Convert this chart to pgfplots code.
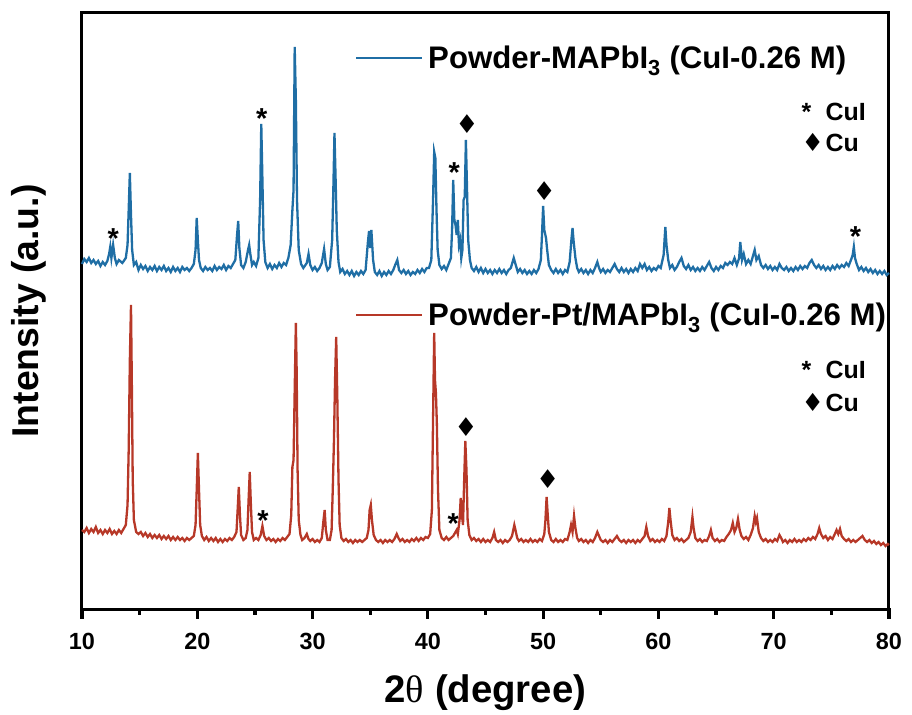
\documentclass[border=0pt]{standalone}
\usepackage{pgfplots}
\usepackage{pgfplotstable}
\pgfplotsset{compat=1.18}
\usepackage{fontspec}
\setmainfont{Liberation Sans}
\newfontfamily\dejavu{DejaVu Sans}
\newfontfamily\serifgr{Liberation Serif}
\definecolor{cblue}{RGB}{31,110,165}
\definecolor{cred}{RGB}{183,56,40}

\pgfplotstableread{
x y
10.0 356
10.2 361
10.4 358
10.6 362
10.8 357
11.0 360
11.2 356
11.4 359
11.6 354
11.8 358
12.0 355
12.2 359
12.35 366
12.45 373
12.55 362
12.7 375
12.85 362
13.0 356
13.2 360
13.5 357
13.8 362
13.95 375
14.05 410
14.15 447
14.25 405
14.35 370
14.5 355
14.7 358
14.9 350
15.1 355
15.3 351
15.5 354
15.7 349
15.9 353
16.1 350
16.3 354
16.5 349
16.7 353
16.9 350
17.1 354
17.3 349
17.5 352
17.7 348
17.9 353
18.1 349
18.3 352
18.5 348
18.7 353
18.9 350
19.1 352
19.3 349
19.5 352
19.7 356
19.85 370
19.95 402
20.05 380
20.15 360
20.3 352
20.5 349
20.7 353
20.9 350
21.1 352
21.3 349
21.5 354
21.7 350
21.9 353
22.1 351
22.3 355
22.5 350
22.7 354
22.9 352
23.1 356
23.3 360
23.45 385
23.55 399
23.65 372
23.8 355
24.0 352
24.2 358
24.4 370
24.5 375
24.6 366
24.75 355
24.9 358
25.1 354
25.3 362
25.45 420
25.55 496
25.65 440
25.75 380
25.9 358
26.1 352
26.3 356
26.5 351
26.7 355
26.9 352
27.1 357
27.3 353
27.5 357
27.7 355
27.9 362
28.1 375
28.25 410
28.35 430
28.45 573
28.55 520
28.65 420
28.8 370
29.0 356
29.2 352
29.5 357
29.65 366
29.8 355
30.0 350
30.2 353
30.4 349
30.6 352
30.8 357
31.0 371
31.15 356
31.3 350
31.5 353
31.7 380
31.8 430
31.9 487
32.0 440
32.1 390
32.25 358
32.4 348
32.6 351
32.8 346
33.0 349
33.2 345
33.4 349
33.6 344
33.8 348
34.0 345
34.2 349
34.4 346
34.6 350
34.8 378
34.9 389
35.0 372
35.1 390
35.25 360
35.4 348
35.6 345
35.8 349
36.0 344
36.2 348
36.4 345
36.6 349
36.8 346
37.0 350
37.2 356
37.35 360
37.5 350
37.7 347
37.9 350
38.1 346
38.3 349
38.5 345
38.7 348
38.9 346
39.1 350
39.3 347
39.5 351
39.7 348
39.9 352
40.1 352
40.3 360
40.45 420
40.55 468
40.65 462
40.75 410
40.85 370
41.0 355
41.2 351
41.4 354
41.6 350
41.8 356
42.0 362
42.1 390
42.2 440
42.3 400
42.4 395
42.5 385
42.6 400
42.7 375
42.8 380
42.9 362
43.0 370
43.1 420
43.2 423
43.3 480
43.4 430
43.5 380
43.65 360
43.8 352
44.0 349
44.2 353
44.4 348
44.6 352
44.8 347
45.0 351
45.2 347
45.4 350
45.6 346
45.8 350
46.0 347
46.2 351
46.4 347
46.6 350
46.8 346
47.0 350
47.2 352
47.45 362
47.6 356
47.8 348
48.0 351
48.2 347
48.4 350
48.6 346
48.8 349
49.0 346
49.2 350
49.4 347
49.6 351
49.8 360
49.9 385
50.0 414
50.1 390
50.25 382
50.35 370
50.5 355
50.7 350
50.9 347
51.1 351
51.3 347
51.5 350
51.7 346
51.9 350
52.1 348
52.3 358
52.45 380
52.55 392
52.65 378
52.8 362
52.95 352
53.1 348
53.3 351
53.5 347
53.7 350
53.9 346
54.1 350
54.3 347
54.5 352
54.7 358
54.85 352
55.0 348
55.2 351
55.4 347
55.6 350
55.8 348
56.0 352
56.2 356
56.4 351
56.6 348
56.8 352
57.0 348
57.2 351
57.4 347
57.6 351
57.8 348
58.0 352
58.2 349
58.4 356
58.6 352
58.8 356
59.0 350
59.2 353
59.4 349
59.6 352
59.8 350
60.0 354
60.2 352
60.45 365
60.6 393
60.7 375
60.85 360
61.0 352
61.2 355
61.4 350
61.6 353
61.8 358
62.0 362
62.2 354
62.4 351
62.6 355
62.8 350
63.0 353
63.2 349
63.4 352
63.6 349
63.8 353
64.0 350
64.2 354
64.4 358
64.6 352
64.8 349
65.0 353
65.2 350
65.4 354
65.6 352
65.8 357
66.0 355
66.2 358
66.4 356
66.6 362
66.8 355
67.0 362
67.1 378
67.25 360
67.4 366
67.6 356
67.8 360
68.0 356
68.2 364
68.35 370
68.5 360
68.7 364
68.9 355
69.1 352
69.3 355
69.5 351
69.7 354
69.9 350
70.1 353
70.3 350
70.5 356
70.7 352
70.9 350
71.1 353
71.3 349
71.5 352
71.7 349
71.9 353
72.1 350
72.3 354
72.5 351
72.7 354
72.9 352
73.1 357
73.3 360
73.5 355
73.7 352
73.9 355
74.1 351
74.3 354
74.5 350
74.7 353
74.9 350
75.1 354
75.3 351
75.5 355
75.7 352
75.9 355
76.1 353
76.3 357
76.5 354
76.7 360
76.85 365
76.95 373
77.05 362
77.2 356
77.4 350
77.6 353
77.8 349
78.0 352
78.2 348
78.4 351
78.6 347
78.8 350
79.0 346
79.2 349
79.4 346
79.6 349
79.8 345
80.0 347
}\bluedata

\pgfplotstableread{
x y
10.0 90
10.2 88
10.4 92
10.6 87
10.8 91
11.0 88
11.2 93
11.4 87
11.6 90
11.8 86
12.0 90
12.2 87
12.4 91
12.6 86
12.8 89
13.0 86
13.2 90
13.4 87
13.6 91
13.8 95
13.95 115
14.05 170
14.15 260
14.25 315
14.32 240
14.4 140
14.5 100
14.7 88
14.9 86
15.1 88
15.3 84
15.5 87
15.7 83
15.9 86
16.1 82
16.3 85
16.5 82
16.7 85
16.9 81
17.1 84
17.3 81
17.5 84
17.7 80
17.9 83
18.1 80
18.3 83
18.5 80
18.7 82
18.9 79
19.1 82
19.3 80
19.5 82
19.7 84
19.85 95
19.95 130
20.05 167
20.15 130
20.25 95
20.4 84
20.6 80
20.8 83
21.0 79
21.2 82
21.4 79
21.6 82
21.8 78
22.0 81
22.2 78
22.4 81
22.6 79
22.8 82
23.0 80
23.2 83
23.4 88
23.5 110
23.6 133
23.7 105
23.8 85
24.0 80
24.2 82
24.35 90
24.45 120
24.55 148
24.65 115
24.75 88
24.9 80
25.1 82
25.3 80
25.5 85
25.65 94
25.8 84
26.0 80
26.2 82
26.4 79
26.6 81
26.8 78
27.0 81
27.2 79
27.4 82
27.6 80
27.8 83
28.0 86
28.15 105
28.25 153
28.35 160
28.45 230
28.55 297
28.62 250
28.7 150
28.8 100
28.95 85
29.1 80
29.3 82
29.5 86
29.65 81
29.8 79
30.0 81
30.2 78
30.4 80
30.6 78
30.8 82
30.95 100
31.05 110
31.15 90
31.3 80
31.5 80
31.65 90
31.75 130
31.85 177
31.95 240
32.05 283
32.15 220
32.25 140
32.35 95
32.5 82
32.7 79
32.9 81
33.1 78
33.3 80
33.5 77
33.7 80
33.9 78
34.1 80
34.3 78
34.5 80
34.7 82
34.85 90
34.95 110
35.05 115
35.15 100
35.3 85
35.5 80
35.7 78
35.9 80
36.1 77
36.3 80
36.5 78
36.7 80
36.9 78
37.1 81
37.3 86
37.45 82
37.6 79
37.8 81
38.0 78
38.2 80
38.4 78
38.6 81
38.8 79
39.0 82
39.2 79
39.4 82
39.6 80
39.8 83
40.0 82
40.2 86
40.35 110
40.45 200
40.55 287
40.62 240
40.7 227
40.78 197
40.88 130
41.0 90
41.2 82
41.4 80
41.6 83
41.8 80
42.0 82
42.2 84
42.4 88
42.5 90
42.6 86
42.75 100
42.85 122
42.95 105
43.05 95
43.15 140
43.25 179
43.35 150
43.45 100
43.6 85
43.8 80
44.0 82
44.2 79
44.4 81
44.6 78
44.8 81
45.0 78
45.2 80
45.4 78
45.6 82
45.75 88
45.9 80
46.1 78
46.3 80
46.5 77
46.7 80
46.9 78
47.1 80
47.3 84
47.5 95
47.6 90
47.75 82
47.9 79
48.1 81
48.3 78
48.5 80
48.7 78
48.9 81
49.1 78
49.3 80
49.5 78
49.7 81
49.9 79
50.1 86
50.2 100
50.3 123
50.4 105
50.5 88
50.7 80
50.9 78
51.1 81
51.3 78
51.5 80
51.7 78
51.9 81
52.1 80
52.3 88
52.42 95
52.55 88
52.68 104
52.8 92
52.95 82
53.1 79
53.3 81
53.5 78
53.7 80
53.9 77
54.1 80
54.3 78
54.5 82
54.7 88
54.85 84
55.0 80
55.2 78
55.4 80
55.6 77
55.8 80
56.0 78
56.2 81
56.4 84
56.6 80
56.8 78
57.0 80
57.2 77
57.4 80
57.6 78
57.8 80
58.0 77
58.2 80
58.4 78
58.6 81
58.8 84
58.95 93
59.1 84
59.3 79
59.5 81
59.7 78
59.9 80
60.1 78
60.3 81
60.5 79
60.7 84
60.85 98
60.95 112
61.05 100
61.2 85
61.4 80
61.6 82
61.8 79
62.0 81
62.2 78
62.4 80
62.6 82
62.8 88
62.95 103
63.05 92
63.2 82
63.4 79
63.6 81
63.8 78
64.0 80
64.2 79
64.4 84
64.55 90
64.7 82
64.9 79
65.1 81
65.3 78
65.5 80
65.7 79
65.9 83
66.1 86
66.3 90
66.45 97
66.6 88
66.75 92
66.9 101
67.05 90
67.2 84
67.4 81
67.6 83
67.8 80
68.0 85
68.2 92
68.35 104
68.45 98
68.55 102
68.7 88
68.9 82
69.1 79
69.3 81
69.5 78
69.7 80
69.9 78
70.1 81
70.3 79
70.5 85
70.65 82
70.8 78
71.0 80
71.2 77
71.4 80
71.6 78
71.8 81
72.0 78
72.2 80
72.4 78
72.6 81
72.8 79
73.0 82
73.2 80
73.4 83
73.6 81
73.8 86
73.95 92
74.1 86
74.3 82
74.5 84
74.7 80
74.9 83
75.1 81
75.3 86
75.45 90
75.6 86
75.75 91
75.9 84
76.1 81
76.3 79
76.5 81
76.7 78
76.9 80
77.1 78
77.3 80
77.5 82
77.7 84
77.9 80
78.1 78
78.3 80
78.5 77
78.7 79
78.9 76
79.1 78
79.3 75
79.5 77
79.7 74
79.9 76
80.0 75
}\reddata

\pgfplotsset{
  xrd/.style={
    scale only axis, width=807bp, height=596bp,
    xmin=10, xmax=80, ymin=11, ymax=607,
    clip=false,
    legend image code/.code={\draw[##1, line width=2bp] (0bp,0bp) -- (66bp,0bp);},
    legend style={draw=none, fill=none, inner sep=0pt, anchor=west,
      font=\bfseries\fontsize{31.3}{32}\selectfont, legend cell align=left,
      /tikz/every even column/.append style={column sep=0bp},
      nodes={inner xsep=5bp}},
  },
}
\tikzset{
  ast/.style={font=\bfseries\fontsize{29}{29}\selectfont, inner sep=0pt, yshift=-6bp},
  dia/.style={font=\dejavu\fontsize{26}{26}\selectfont, inner sep=0pt},
  mleg/.style={anchor=west, inner sep=0pt, font=\bfseries\fontsize{25}{25}\selectfont},
}

\begin{document}
\begin{tikzpicture}
\useasboundingbox (-82bp,-106bp) rectangle (830bp,609bp);
\begin{axis}[xrd,
  axis line style={line width=3bp},
  xtick={10,20,...,80}, ytick=\empty,
  major tick length=0pt,
  /pgf/number format/assume math mode=true,
  xticklabel style={font=\bfseries\fontsize{23.5}{24}\selectfont, anchor=base, yshift=-40bp},
  xlabel={\bfseries 2{\mdseries\serifgr θ} (degree)},
  xlabel style={font=\fontsize{38.5}{38.5}\selectfont, at={(axis description cs:0.5,-0.1577)}, anchor=base},
  ylabel={\bfseries Intensity (a.u.)},
  ylabel style={font=\fontsize{37.5}{37.5}\selectfont, at={(axis description cs:-0.0545,0.5)}, anchor=base},
  legend style={at={(axis description cs:0.3383,0.9245)}},
]
\addplot[cblue, line width=2.3bp] table {\bluedata};
\addlegendentry{Powder-MAPbI\textsubscript{3} (CuI-0.26 M)}
\coordinate (t10) at (axis cs:10,11);
\coordinate (t15) at (axis cs:15,11);
\coordinate (t20) at (axis cs:20,11);
\coordinate (t25) at (axis cs:25,11);
\coordinate (t30) at (axis cs:30,11);
\coordinate (t35) at (axis cs:35,11);
\coordinate (t40) at (axis cs:40,11);
\coordinate (t45) at (axis cs:45,11);
\coordinate (t50) at (axis cs:50,11);
\coordinate (t55) at (axis cs:55,11);
\coordinate (t60) at (axis cs:60,11);
\coordinate (t65) at (axis cs:65,11);
\coordinate (t70) at (axis cs:70,11);
\coordinate (t75) at (axis cs:75,11);
\coordinate (t80) at (axis cs:80,11);
\node[ast] at (axis cs:12.7,387) {*};
\node[ast] at (axis cs:25.6,507) {*};
\node[ast] at (axis cs:42.3,453) {*};
\node[ast] at (axis cs:77.1,389) {*};
\node[dia] at (axis cs:43.4,496) {♦};
\node[dia] at (axis cs:50.1,429) {♦};
\node[ast] at (axis cs:25.7,105) {*};
\node[ast] at (axis cs:42.2,102) {*};
\node[dia] at (axis cs:43.3,193) {♦};
\node[dia] at (axis cs:50.4,141) {♦};
\node[mleg] at (axis cs:72.4,508) {\makebox[24bp][l]{*}CuI};
\node[mleg] at (axis cs:72.4,477) {\makebox[24bp][l]{\dejavu ♦}Cu};
\node[mleg] at (axis cs:72.4,250) {\makebox[24bp][l]{*}CuI};
\node[mleg] at (axis cs:72.4,217) {\makebox[24bp][l]{\dejavu ♦}Cu};
\end{axis}
\begin{axis}[xrd, hide axis,
  legend style={at={(axis description cs:0.3383,0.4933)}},
]
\addplot[cred, line width=2.3bp] table {\reddata};
\addlegendentry{Powder-Pt/MAPbI\textsubscript{3} (CuI-0.26 M)}
\end{axis}
% axis ticks, outward, as filled bars
\foreach \t in {10,20,30,40,50,60,70,80} {\fill[black] (t\t) ++(-1.6bp,1bp) rectangle ++(3.2bp,-11bp);}
\foreach \t in {15,25,35,45,55,65,75} {\fill[black] (t\t) ++(-1.6bp,1bp) rectangle ++(3.2bp,-7bp);}
\end{tikzpicture}
\end{document}
